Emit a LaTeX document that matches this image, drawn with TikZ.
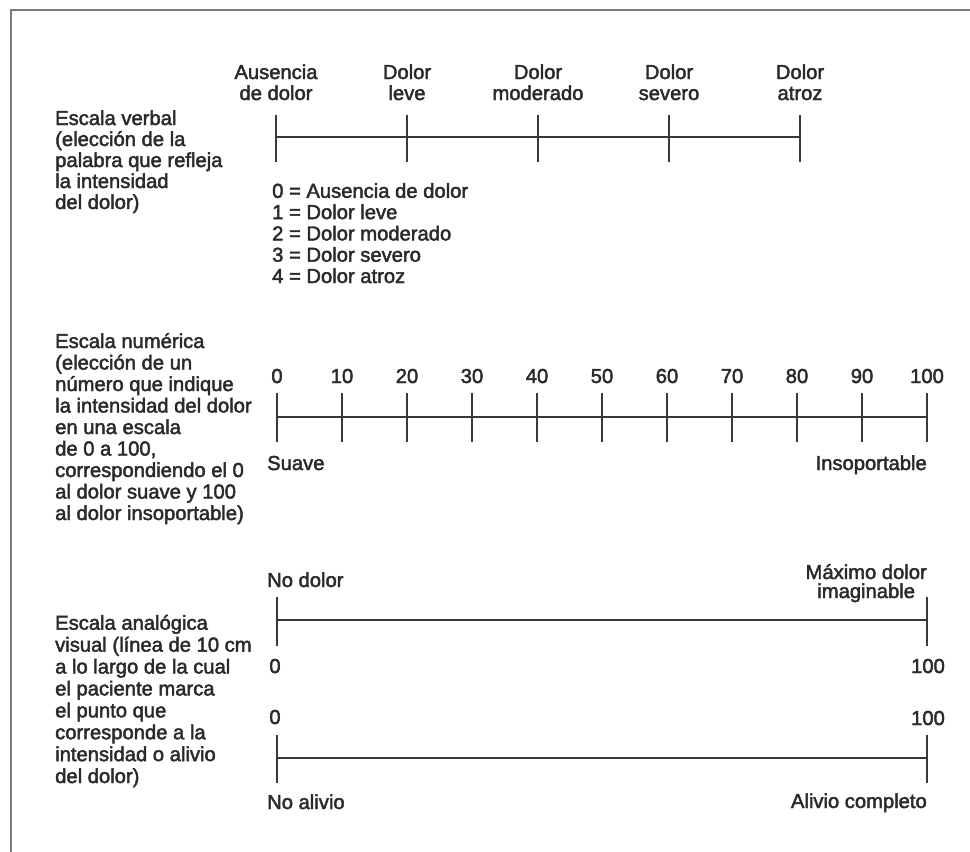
\documentclass[tikz,border=0pt]{standalone}
\usepackage{fontspec}
\setmainfont{Liberation Sans}[FakeBold=2.2]
\definecolor{ink}{HTML}{2A2A2A}
\definecolor{lineink}{HTML}{383838}
\definecolor{framegray}{HTML}{7A7A7A}
\begin{document}
\begin{tikzpicture}[x=1pt,y=-1pt,
  txt/.style={font=\fontsize{20.2}{21}\selectfont, text=ink, inner sep=0pt},
  desc/.style={txt, align=left, anchor=base west},
  toplab/.style={txt, align=center, anchor=base},
  scaleline/.style={draw=lineink, line width=2pt},
  tickline/.style={draw=lineink, line width=2pt},
]
\useasboundingbox (0,0) rectangle (970,852);

% frame
\coordinate (ftr) at (970,10);
\coordinate (ftl) at (11,10);
\coordinate (fbl) at (11,852);
\draw[draw=framegray, line width=2.4pt] (ftr) -- (ftl) -- (fbl);

% ---------- Escala verbal ----------
% multi-line nodes are placed by the baseline of their last line
\node[desc] (verbdesc) at (55,209) {Escala verbal\\(elección de la\\palabra que refleja\\la intensidad\\del dolor)};
\foreach \i/\x in {0/276,1/407,2/538,3/669,4/800}
  \coordinate (vt\i) at (\x,137);
\draw[scaleline] (vt0) -- (vt4);
\foreach \i in {0,...,4}
  \draw[tickline] ([yshift=22pt]vt\i) -- ([yshift=-25pt]vt\i);
\node[toplab] (vl0) at (276,100) {Ausencia\\de dolor};
\node[toplab] (vl1) at (407,100) {Dolor\\leve};
\node[toplab] (vl2) at (538,100) {Dolor\\moderado};
\node[toplab] (vl3) at (669,100) {Dolor\\severo};
\node[toplab] (vl4) at (800,100) {Dolor\\atroz};
\node[desc, font=\fontsize{20.2}{21.3}\selectfont] (vlist) at (272,283) {0 = Ausencia de dolor\\1 = Dolor leve\\2 = Dolor moderado\\3 = Dolor severo\\4 = Dolor atroz};

% ---------- Escala numerica ----------
\node[desc, font=\fontsize{20.2}{21.5}\selectfont] (numdesc) at (55,520) {Escala numérica\\(elección de un\\número que indique\\la intensidad del dolor\\en una escala\\de 0 a 100,\\correspondiendo el 0\\al dolor suave y 100\\al dolor insoportable)};
\foreach \i in {0,...,10}{
  \coordinate (nt\i) at ({277+65*\i},417);
}
\draw[scaleline] (nt0) -- (nt10);
\foreach \i in {0,...,10}{
  \draw[tickline] ([yshift=24pt]nt\i) -- ([yshift=-25pt]nt\i);
  \pgfmathtruncatemacro{\v}{10*\i}
  \node[txt, anchor=base] (nl\i) at ({277+65*\i},383) {\v};
}
\node[txt, anchor=base west] (suave) at (267,470) {Suave};
\node[txt, anchor=base east] (insop) at (927,470) {Insoportable};

% ---------- Escala analogica visual ----------
\node[desc, font=\fontsize{20.2}{21.9}\selectfont] (vasdesc) at (55,783) {Escala analógica\\visual (línea de 10 cm\\a lo largo de la cual\\el paciente marca\\el punto que\\corresponde a la\\intensidad o alivio\\del dolor)};

\coordinate (a0) at (277,620);
\coordinate (a1) at (927,620);
\draw[scaleline] (a0) -- (a1);
\draw[tickline] ([yshift=23pt]a0) -- ([yshift=-26pt]a0);
\draw[tickline] ([yshift=23pt]a1) -- ([yshift=-26pt]a1);
\node[txt, anchor=base west] (nodolor) at (267,587) {No dolor};
\node[txt, align=center, anchor=base east, font=\fontsize{20.2}{19}\selectfont] (maxdolor) at (927,598) {Máximo dolor\\imaginable};
\node[txt, anchor=base] (a0lab) at (275,673) {0};
\node[txt, anchor=base] (a1lab) at (928,673) {100};

\coordinate (b0) at (277,758);
\coordinate (b1) at (927,758);
\draw[scaleline] (b0) -- (b1);
\draw[tickline] ([yshift=23pt]b0) -- ([yshift=-25pt]b0);
\draw[tickline] ([yshift=23pt]b1) -- ([yshift=-25pt]b1);
\node[txt, anchor=base] (b0lab) at (275,724) {0};
\node[txt, anchor=base] (b1lab) at (928,725) {100};
\node[txt, anchor=base west] (noalivio) at (267,809) {No alivio};
\node[txt, anchor=base east] (alivio) at (927,808) {Alivio completo};
\end{tikzpicture}
\end{document}
